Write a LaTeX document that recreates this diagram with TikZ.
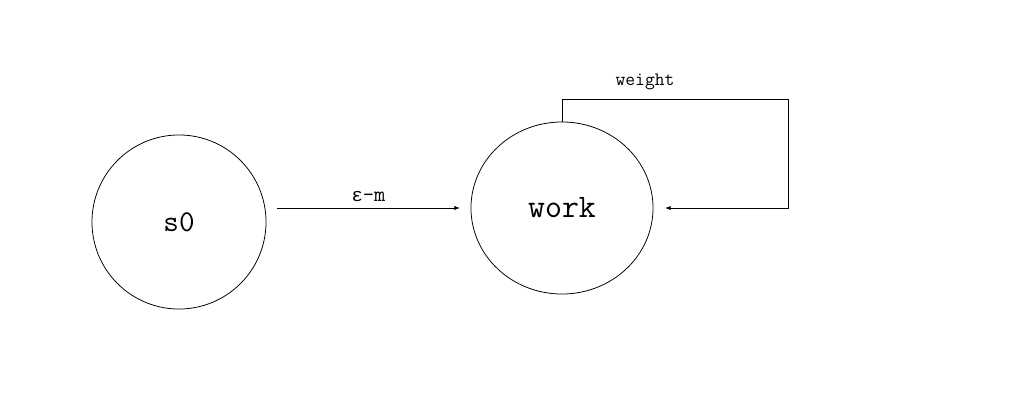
\documentclass[tikz,border=0pt]{standalone}
\usepackage{fontspec}
\newfontfamily\greekmono{Liberation Mono}
\usetikzlibrary{shapes.geometric,arrows.meta}
\tikzset{
    state/.style={draw, ellipse, line width=0.55pt, font=\ttfamily, inner sep=0pt},
    trans/.style={-{Latex[length=4pt,width=3pt]}, line width=0.55pt},
}
\begin{document}
\begin{tikzpicture}[x=0.025cm, y=-0.025cm]

    % Fix the frame
    \useasboundingbox (0,0) rectangle (1014,414);

    % Draw the two states
    \node[state, minimum width=4.35cm, minimum height=4.35cm, font=\ttfamily\fontsize{21.5}{24}\selectfont] (s0) at (179,222) {s0};
    \node[state, minimum width=4.55cm, minimum height=4.3cm, font=\ttfamily\fontsize{23.4}{26}\selectfont] (work) at (562,208) {work};

    % Transition from s0 to work
    \coordinate (s0out) at (277,208);
    \coordinate (workin) at (460,208);
    \draw[trans] (s0out) -- (workin) node[midway, above=1pt, font=\ttfamily\fontsize{15.5}{17}\selectfont] {{\greekmono\fontsize{13.4}{15}\selectfont ɛ}-m};

    % Self loop on work
    \coordinate (loopa) at (562,99);
    \coordinate (loopb) at (788,99);
    \coordinate (loopc) at (788,208);
    \coordinate (loopin) at (665,208);
    \draw[trans] (work.north) -- (loopa) -- (loopb) -- (loopc) -- (loopin);
    \node[font=\ttfamily\fontsize{13.5}{15}\selectfont] (wlabel) at (645,82) {weight};

\end{tikzpicture}
\end{document}
